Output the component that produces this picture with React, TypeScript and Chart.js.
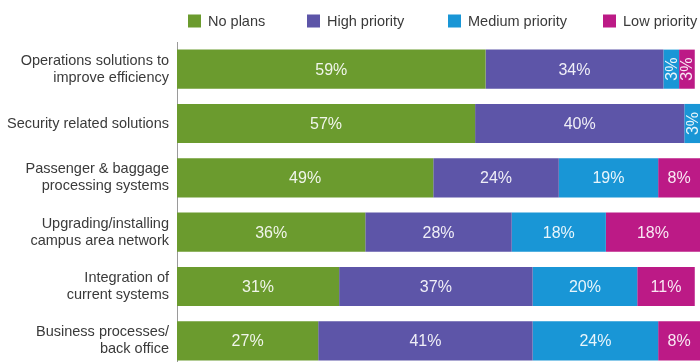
import React, { useEffect, useRef } from "react";
import { Chart, registerables } from "chart.js";

Chart.register(...registerables);

const categories: string[][] = [
  ["Operations solutions to", "improve efficiency"],
  ["Security related solutions"],
  ["Passenger & baggage", "processing systems"],
  ["Upgrading/installing", "campus area network"],
  ["Integration of", "current systems"],
  ["Business processes/", "back office"],
];

const seriesNames = ["No plans", "High priority", "Medium priority", "Low priority"];
const noPlans = [59, 57, 49, 36, 31, 27];
const highPriority = [34, 40, 24, 28, 37, 41];
const mediumPriority = [3, 3, 19, 18, 20, 24];
const lowPriority = [3, 0, 8, 18, 11, 8];

const colors = ["#6b9b2e", "#5d55a8", "#1996d6", "#bc1a86"];
const FONT = "'Liberation Sans', Arial, Helvetica, sans-serif";
const legendX = [188, 307, 448, 603];

const customLegend = {
  id: "customLegend",
  afterDraw(chart: any) {
    const ctx = chart.ctx;
    ctx.save();
    ctx.font = `14.5px ${FONT}`;
    ctx.textBaseline = "middle";
    ctx.textAlign = "left";
    chart.data.datasets.forEach((ds: any, i: number) => {
      const x = legendX[i];
      const y = 21;
      ctx.fillStyle = ds.backgroundColor;
      ctx.fillRect(x, y - 6.5, 13, 13);
      ctx.fillStyle = "#3a3a3a";
      ctx.fillText(ds.label, x + 20, y + 0.5);
    });
    ctx.restore();
  },
};

const barLabels = {
  id: "barLabels",
  afterDatasetsDraw(chart: any) {
    const ctx = chart.ctx;
    ctx.save();
    ctx.font = `16px ${FONT}`;
    ctx.fillStyle = "rgba(255,255,255,0.9)";
    ctx.textAlign = "center";
    ctx.textBaseline = "middle";
    chart.data.datasets.forEach((ds: any, di: number) => {
      const meta = chart.getDatasetMeta(di);
      meta.data.forEach((el: any, i: number) => {
        const v = ds.data[i];
        if (!v) return;
        const left = Math.min(el.x, el.base);
        const right = Math.max(el.x, el.base);
        const w = right - left;
        const cx = (left + right) / 2;
        const text = `${v}%`;
        if (w < 28) {
          ctx.save();
          ctx.translate(cx, el.y);
          ctx.rotate(-Math.PI / 2);
          ctx.fillText(text, 0, 1);
          ctx.restore();
        } else {
          ctx.fillText(text, cx, el.y + 1);
        }
      });
    });
    ctx.restore();
  },
};

export default function App() {
  const ref = useRef<HTMLCanvasElement>(null);

  useEffect(() => {
    if (!ref.current) return;
    const series = [noPlans, highPriority, mediumPriority, lowPriority];
    const chart = new Chart(ref.current, {
      type: "bar",
      data: {
        labels: categories,
        datasets: series.map((d, i) => ({
          label: seriesNames[i],
          data: d,
          backgroundColor: colors[i],
          borderWidth: 0,
          barPercentage: 0.72,
          categoryPercentage: 1,
        })),
      },
      options: {
        indexAxis: "y",
        animation: false,
        responsive: true,
        maintainAspectRatio: false,
        layout: { padding: { top: 42, left: 0, right: 0, bottom: 0 } },
        plugins: {
          legend: { display: false },
          tooltip: { enabled: false },
        },
        scales: {
          x: {
            stacked: true,
            min: 0,
            max: 100,
            display: false,
          },
          y: {
            stacked: true,
            grid: { display: false, drawTicks: false },
            border: { display: true, color: "#9a9a9a", width: 1 },
            ticks: {
              color: "#3a3a3a",
              padding: 8,
              font: { family: FONT, size: 14.5, lineHeight: 1.18 },
            },
            afterFit(scale: any) {
              scale.width = 177;
              scale.paddingTop = 0;
              scale.paddingBottom = 0;
            },
          },
        },
      },
      plugins: [barLabels, customLegend],
    } as any);
    return () => chart.destroy();
  }, []);

  return (
    <div style={{ position: "absolute", left: 0, top: 0, width: 700, height: 368 }}>
      <canvas ref={ref} />
    </div>
  );
}
